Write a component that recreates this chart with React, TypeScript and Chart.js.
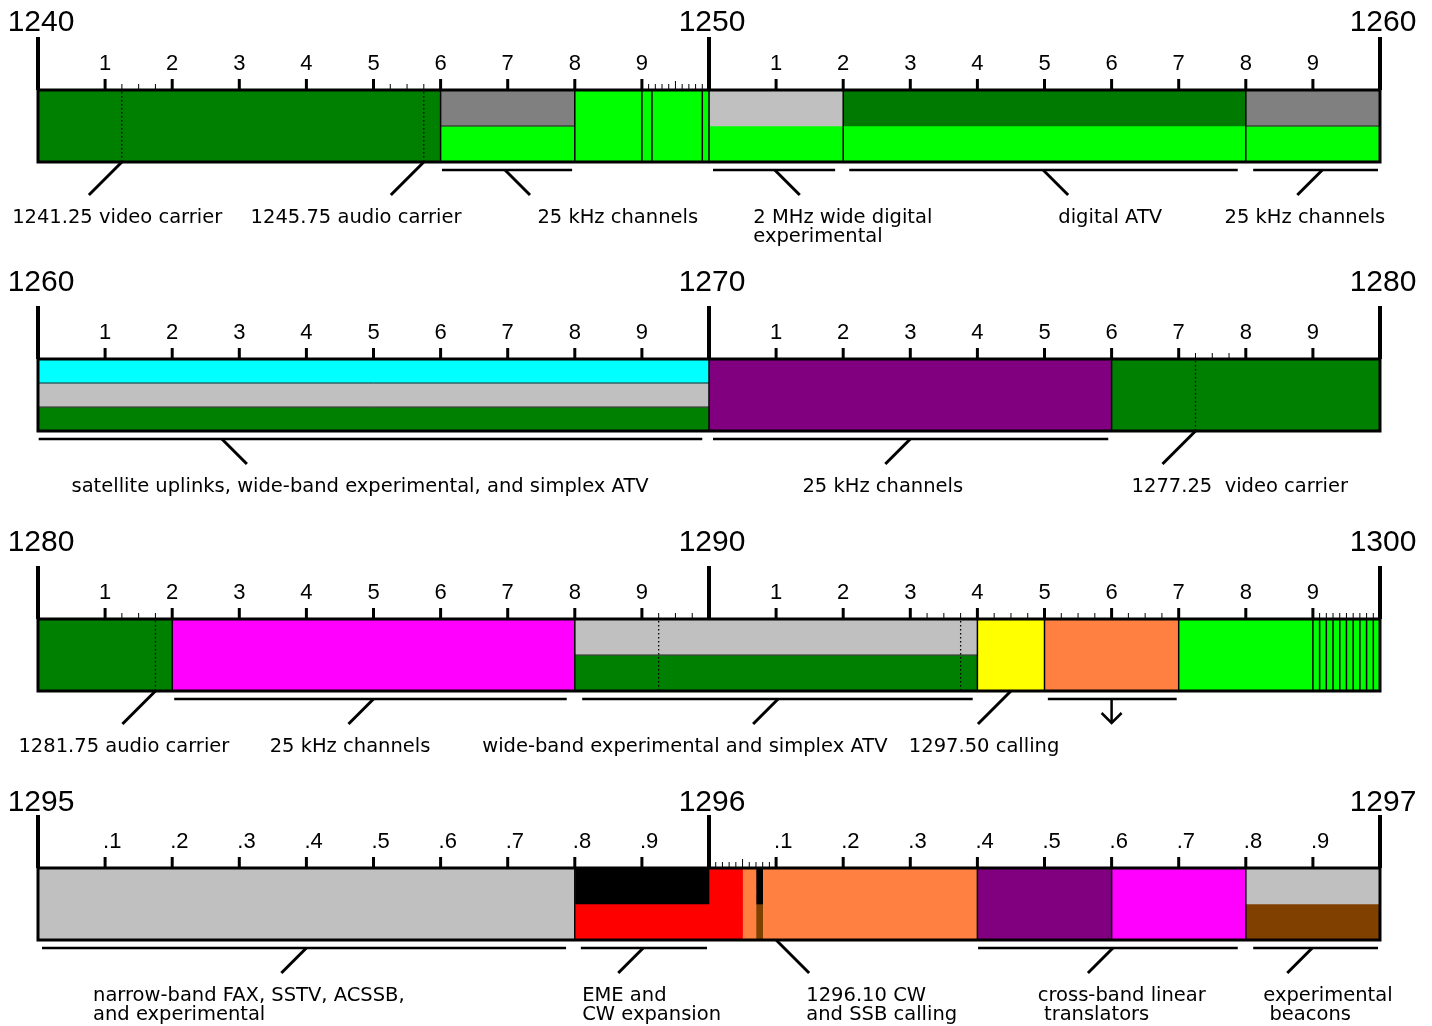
import React, { useEffect, useRef } from "react";
import { Chart, registerables } from "chart.js";

Chart.register(...registerables);

// ---------- data ----------
// rows: full | top | bottom | t1 | t2 | t3  (t = thirds)
type Seg = [number, number, string, string, boolean?];

const ROWS = ["r0", "r1", "r2", "r3", "r4", "r5"];

// Panel 1: 1240-1260
const P1_RANGE = [1240, 1260];
const P1_MAJOR = [1240, 1250, 1260];
const P1_MAJOR_LABELS = ["1240", "1250", "1260"];
const P1_MINOR = [1241, 1242, 1243, 1244, 1245, 1246, 1247, 1248, 1249, 1251, 1252, 1253, 1254, 1255, 1256, 1257, 1258, 1259];
const P1_MINOR_LABELS = ["1", "2", "3", "4", "5", "6", "7", "8", "9", "1", "2", "3", "4", "5", "6", "7", "8", "9"];
const P1_SEGMENTS: Seg[] = [
  [1240, 1246, "full", "#008000"],
  [1246, 1248, "top", "#808080"],
  [1246, 1248, "bottom", "#00FF00", true],
  [1248, 1249, "full", "#00FF00"],
  [1249, 1249.15, "full", "#00FF00"],
  [1249.15, 1249.9, "full", "#00FF00"],
  [1249.9, 1250, "full", "#00FF00"],
  [1250, 1252, "top", "#C0C0C0"],
  [1250, 1252, "bottom", "#00FF00"],
  [1252, 1258, "top", "#007A00"],
  [1252, 1258, "bottom", "#00FF00"],
  [1258, 1260, "top", "#808080"],
  [1258, 1260, "bottom", "#00FF00", true],
];
const P1_DIVIDERS = [1246, 1248, 1249, 1249.15, 1249.9, 1250, 1252, 1258];
const P1_DOTTED = [1241.25, 1245.75];
const P1_FINE = [1241.25, 1241.5, 1241.75, 1245.25, 1245.5, 1245.75, 1249.1, 1249.2, 1249.3, 1249.4, 1249.6, 1249.7, 1249.8, 1249.9];
const P1_FINE_TALL = [1249.5];
const P1_BRACKETS = [
  [1246.02, 1247.96, 1246.96, 1],
  [1250.06, 1251.88, 1250.98, 1],
  [1252.09, 1257.88, 1254.98, 1],
  [1258.11, 1259.97, 1259.14, -1],
];
const P1_CARRIERS = [
  [1241.25, -1],
  [1245.75, -1],
];
const P1_LABELS: [number, string[], string][] = [
  [1241.18, ["1241.25 video carrier"], "center"],
  [1244.74, ["1245.75 audio carrier"], "center"],
  [1248.64, ["25 kHz channels"], "center"],
  [1250.66, ["2 MHz wide digital", "experimental"], "left"],
  [1255.98, ["digital ATV"], "center"],
  [1258.88, ["25 kHz channels"], "center"],
];

// Panel 2: 1260-1280
const P2_RANGE = [1260, 1280];
const P2_MAJOR = [1260, 1270, 1280];
const P2_MAJOR_LABELS = ["1260", "1270", "1280"];
const P2_MINOR = [1261, 1262, 1263, 1264, 1265, 1266, 1267, 1268, 1269, 1271, 1272, 1273, 1274, 1275, 1276, 1277, 1278, 1279];
const P2_MINOR_LABELS = ["1", "2", "3", "4", "5", "6", "7", "8", "9", "1", "2", "3", "4", "5", "6", "7", "8", "9"];
const P2_SEGMENTS: Seg[] = [
  [1260, 1270, "t1", "#00FFFF"],
  [1260, 1270, "t2", "#C0C0C0", true],
  [1260, 1270, "t3", "#008000", true],
  [1270, 1276, "full", "#800080"],
  [1276, 1280, "full", "#008000"],
];
const P2_DIVIDERS = [1270, 1276];
const P2_DOTTED = [1277.25];
const P2_FINE = [1277.25, 1277.5, 1277.75];
const P2_FINE_TALL: number[] = [];
const P2_BRACKETS = [
  [1260.01, 1269.9, 1262.74, 1],
  [1270.06, 1275.95, 1273.0, -1],
];
const P2_CARRIERS = [[1277.25, -1]];
const P2_LABELS: [number, string[], string][] = [
  [1264.8, ["satellite uplinks, wide-band experimental, and simplex ATV"], "center"],
  [1272.59, ["25 kHz channels"], "center"],
  [1277.91, ["1277.25  video carrier"], "center"],
];

// Panel 3: 1280-1300
const P3_RANGE = [1280, 1300];
const P3_MAJOR = [1280, 1290, 1300];
const P3_MAJOR_LABELS = ["1280", "1290", "1300"];
const P3_MINOR = [1281, 1282, 1283, 1284, 1285, 1286, 1287, 1288, 1289, 1291, 1292, 1293, 1294, 1295, 1296, 1297, 1298, 1299];
const P3_MINOR_LABELS = ["1", "2", "3", "4", "5", "6", "7", "8", "9", "1", "2", "3", "4", "5", "6", "7", "8", "9"];
const P3_SEGMENTS: Seg[] = [
  [1280, 1282, "full", "#008000"],
  [1282, 1288, "full", "#FF00FF"],
  [1288, 1294, "top", "#C0C0C0"],
  [1288, 1294, "bottom", "#008000", true],
  [1294, 1295, "full", "#FFFF00"],
  [1295, 1297, "full", "#FF8040"],
  [1297, 1299, "full", "#00FF00"],
  [1299, 1300, "full", "#00FF00"],
];
const P3_DIVIDERS = [1282, 1288, 1294, 1295, 1297, 1299, 1299.1, 1299.2, 1299.3, 1299.4, 1299.5, 1299.6, 1299.7, 1299.8, 1299.9];
const P3_DOTTED = [1281.75, 1289.25, 1293.75];
const P3_FINE = [
  1281.25, 1281.5, 1281.75, 1289.25, 1289.5, 1289.75, 1293.25, 1293.5, 1293.75,
  1294.25, 1294.5, 1294.75, 1295.25, 1295.5, 1295.75, 1296.25, 1296.5, 1296.75,
  1299.1, 1299.2, 1299.3, 1299.4, 1299.5, 1299.6, 1299.7, 1299.8, 1299.9,
];
const P3_FINE_TALL: number[] = [];
const P3_BRACKETS = [
  [1282.03, 1287.88, 1285.0, -1],
  [1288.11, 1293.93, 1291.03, -1],
  [1295.05, 1296.97, 1296.0, 0],
];
const P3_CARRIERS = [
  [1281.75, -1],
  [1294.5, -1],
];
const P3_LABELS: [number, string[], string][] = [
  [1281.28, ["1281.75 audio carrier"], "center"],
  [1284.65, ["25 kHz channels"], "center"],
  [1289.64, ["wide-band experimental and simplex ATV"], "center"],
  [1294.1, ["1297.50 calling"], "center"],
];

// Panel 4: 1295-1297
const P4_RANGE = [1295, 1297];
const P4_MAJOR = [1295, 1296, 1297];
const P4_MAJOR_LABELS = ["1295", "1296", "1297"];
const P4_MINOR = [1295.1, 1295.2, 1295.3, 1295.4, 1295.5, 1295.6, 1295.7, 1295.8, 1295.9, 1296.1, 1296.2, 1296.3, 1296.4, 1296.5, 1296.6, 1296.7, 1296.8, 1296.9];
const P4_MINOR_LABELS = [".1", ".2", ".3", ".4", ".5", ".6", ".7", ".8", ".9", ".1", ".2", ".3", ".4", ".5", ".6", ".7", ".8", ".9"];
const P4_SEGMENTS: Seg[] = [
  [1295, 1295.8, "full", "#C0C0C0"],
  [1295.8, 1296, "top", "#000000"],
  [1295.8, 1296, "bottom", "#FF0000"],
  [1296, 1296.05, "full", "#FF0000"],
  [1296.05, 1296.07, "full", "#FF8040"],
  [1296.07, 1296.08, "top", "#000000"],
  [1296.07, 1296.08, "bottom", "#804000"],
  [1296.08, 1296.4, "full", "#FF8040"],
  [1296.4, 1296.6, "full", "#800080"],
  [1296.6, 1296.8, "full", "#FF00FF"],
  [1296.8, 1297, "top", "#C0C0C0"],
  [1296.8, 1297, "bottom", "#804000"],
];
const P4_DIVIDERS = [1295.8, 1296.4, 1296.6, 1296.8];
const P4_DOTTED: number[] = [];
const P4_FINE = [1296.01, 1296.02, 1296.03, 1296.04, 1296.06, 1296.07, 1296.08, 1296.09];
const P4_FINE_TALL = [1296.05];
const P4_BRACKETS = [
  [1295.006, 1295.787, 1295.4, -1],
  [1295.809, 1295.997, 1295.902, -1],
  [1296.401, 1296.788, 1296.602, -1],
  [1296.811, 1296.997, 1296.899, -1],
];
const P4_CARRIERS = [[1296.1, 1]];
const P4_LABELS: [number, string[], string][] = [
  [1295.082, ["narrow-band FAX, SSTV, ACSSB,", "and experimental"], "left"],
  [1295.811, ["EME and", "CW expansion"], "left"],
  [1296.145, ["1296.10 CW", "and SSB calling"], "left"],
  [1296.49, ["cross-band linear", " translators"], "left"],
  [1296.826, ["experimental", " beacons"], "left"],
];

// ---------- layout (not data) ----------
const W = 1432;
const H = 1026;

const PANELS = [
  { range: P1_RANGE, major: P1_MAJOR, majorLabels: P1_MAJOR_LABELS, minor: P1_MINOR, minorLabels: P1_MINOR_LABELS, segments: P1_SEGMENTS, dividers: P1_DIVIDERS, dotted: P1_DOTTED, fine: P1_FINE, fineTall: P1_FINE_TALL, brackets: P1_BRACKETS, carriers: P1_CARRIERS, labels: P1_LABELS, barTop: 90, bigGap: 59, minorLeft: false },
  { range: P2_RANGE, major: P2_MAJOR, majorLabels: P2_MAJOR_LABELS, minor: P2_MINOR, minorLabels: P2_MINOR_LABELS, segments: P2_SEGMENTS, dividers: P2_DIVIDERS, dotted: P2_DOTTED, fine: P2_FINE, fineTall: P2_FINE_TALL, brackets: P2_BRACKETS, carriers: P2_CARRIERS, labels: P2_LABELS, barTop: 359, bigGap: 68, minorLeft: false },
  { range: P3_RANGE, major: P3_MAJOR, majorLabels: P3_MAJOR_LABELS, minor: P3_MINOR, minorLabels: P3_MINOR_LABELS, segments: P3_SEGMENTS, dividers: P3_DIVIDERS, dotted: P3_DOTTED, fine: P3_FINE, fineTall: P3_FINE_TALL, brackets: P3_BRACKETS, carriers: P3_CARRIERS, labels: P3_LABELS, barTop: 619, bigGap: 68, minorLeft: false },
  { range: P4_RANGE, major: P4_MAJOR, majorLabels: P4_MAJOR_LABELS, minor: P4_MINOR, minorLabels: P4_MINOR_LABELS, segments: P4_SEGMENTS, dividers: P4_DIVIDERS, dotted: P4_DOTTED, fine: P4_FINE, fineTall: P4_FINE_TALL, brackets: P4_BRACKETS, carriers: P4_CARRIERS, labels: P4_LABELS, barTop: 868, bigGap: 57, minorLeft: true },
];

const BAR_H = 72;
const ROW_SPANS: Record<string, [number, number]> = {
  full: [0, 6],
  top: [0, 3],
  bottom: [3, 6],
  t1: [0, 2],
  t2: [2, 4],
  t3: [4, 6],
};

function line(ctx: CanvasRenderingContext2D, x1: number, y1: number, x2: number, y2: number) {
  ctx.beginPath();
  ctx.moveTo(x1, y1);
  ctx.lineTo(x2, y2);
  ctx.stroke();
}

function makePlugin(p: any) {
  return {
    id: "bandplan",
    afterDatasetsDraw(chart: any) {
      const ctx: CanvasRenderingContext2D = chart.ctx;
      const xs = chart.scales.x;
      const ys = chart.scales.y;
      const { top, bottom, left, right } = chart.chartArea;
      const px = (v: number) => xs.getPixelForValue(v);
      const rowTop = (r: number) => (r >= 6 ? bottom : ys.getPixelForValue(r) - (ys.getPixelForValue(1) - ys.getPixelForValue(0)) / 2);
      ctx.save();
      ctx.lineCap = "butt";
      // horizontal edges between stacked segments
      ctx.lineWidth = 1;
      ctx.strokeStyle = "#222";
      for (const s of p.segments as Seg[]) {
        if (s[4]) {
          const y = rowTop(ROW_SPANS[s[2]][0]);
          line(ctx, px(s[0]), y, px(s[1]), y);
        }
      }
      // vertical dividers
      ctx.strokeStyle = "#000";
      ctx.lineWidth = 1.5;
      for (const v of p.dividers) line(ctx, px(v), top, px(v), bottom);
      // dotted carrier lines
      ctx.lineWidth = 1.3;
      ctx.setLineDash([1.5, 2.5]);
      for (const v of p.dotted) line(ctx, px(v), top + 2, px(v), bottom);
      ctx.setLineDash([]);
      // border
      ctx.lineWidth = 3;
      ctx.strokeRect(left, top, right - left, bottom - top);
      // major ticks
      ctx.lineWidth = 4;
      for (const v of p.major) line(ctx, px(v), top - 53, px(v), top);
      // minor ticks
      ctx.lineWidth = 3;
      for (const v of p.minor) line(ctx, px(v), top - 11, px(v), top);
      // fine ticks
      ctx.lineWidth = 1;
      for (const v of p.fine) line(ctx, px(v), top - 6, px(v), top);
      for (const v of p.fineTall) line(ctx, px(v), top - 9, px(v), top);
      // big labels
      ctx.fillStyle = "#000";
      ctx.textBaseline = "alphabetic";
      ctx.font = '30px "Liberation Sans", Arial, sans-serif';
      ctx.textAlign = "center";
      p.major.forEach((v: number, i: number) => ctx.fillText(p.majorLabels[i], px(v) + 3, top - p.bigGap));
      // minor labels
      ctx.font = '22px "Liberation Sans", Arial, sans-serif';
      ctx.textAlign = p.minorLeft ? "left" : "center";
      p.minor.forEach((v: number, i: number) => ctx.fillText(p.minorLabels[i], px(v) + (p.minorLeft ? -2 : 0), top - 20));
      // brackets and leaders
      const by = bottom + 8;
      const ey = bottom + 33;
      for (const b of p.brackets) {
        ctx.lineWidth = 2.5;
        line(ctx, px(b[0]), by, px(b[1]), by);
        ctx.lineWidth = 3;
        if (b[3] === 0) {
          const ax = px(b[2]);
          ctx.lineWidth = 2.5;
          line(ctx, ax, by, ax, ey - 1);
          ctx.beginPath();
          ctx.moveTo(ax - 10, ey - 11);
          ctx.lineTo(ax, ey - 1);
          ctx.lineTo(ax + 10, ey - 11);
          ctx.stroke();
        } else {
          line(ctx, px(b[2]), by, px(b[2]) + b[3] * (ey - by), ey);
        }
      }
      ctx.lineWidth = 3;
      for (const c of p.carriers) line(ctx, px(c[0]), bottom, px(c[0]) + c[1] * (ey - bottom), ey);
      // annotation labels
      ctx.font = '19.5px "DejaVu Sans", sans-serif';
      for (const l of p.labels as [number, string[], string][]) {
        ctx.textAlign = l[2] as CanvasTextAlign;
        l[1].forEach((t, i) => ctx.fillText(t, px(l[0]), bottom + 61 + i * 19));
      }
      ctx.restore();
    },
  };
}

function buildConfig(p: any) {
  const datasets = (p.segments as Seg[]).map((s) => {
    const [r0, r1] = ROW_SPANS[s[2]];
    return {
      data: ROWS.map((_, i) => (i >= r0 && i < r1 ? [s[0], s[1]] : null)),
      backgroundColor: s[3],
      borderWidth: 0,
      grouped: false,
      barPercentage: 1,
      categoryPercentage: 1,
    };
  });
  return {
    type: "bar" as const,
    data: { labels: ROWS, datasets },
    options: {
      indexAxis: "y" as const,
      responsive: false,
      animation: false as const,
      events: [],
      layout: { padding: { left: 38, right: W - 1380, top: p.barTop, bottom: H - (p.barTop + BAR_H) } },
      scales: {
        x: { type: "linear" as const, min: p.range[0], max: p.range[1], display: false },
        y: { display: false },
      },
      plugins: { legend: { display: false }, tooltip: { enabled: false } },
    },
    plugins: [makePlugin(p)],
  };
}

function BandPanel({ panel }: { panel: any }) {
  const ref = useRef<HTMLCanvasElement>(null);
  useEffect(() => {
    if (!ref.current) return;
    const chart = new Chart(ref.current, buildConfig(panel) as any);
    return () => chart.destroy();
  }, [panel]);
  return (
    <canvas
      ref={ref}
      width={W}
      height={H}
      style={{ position: "absolute", left: 0, top: 0, width: W, height: H }}
    />
  );
}

export default function App() {
  return (
    <div style={{ position: "absolute", left: 0, top: 0, width: W, height: H, background: "#fff" }}>
      {PANELS.map((p, i) => (
        <BandPanel key={i} panel={p} />
      ))}
    </div>
  );
}
